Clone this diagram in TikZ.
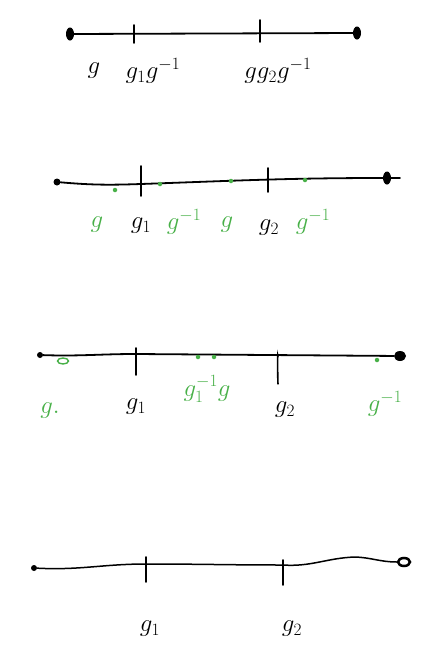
\documentclass[tikz,border=0pt]{standalone}
\usetikzlibrary{shapes.geometric}
\begin{document}
\begin{tikzpicture}[x=1pt,y=-1pt,
  axis/.style={line width=1.8pt,line cap=round},
  tickmark/.style={line width=1.6pt,line cap=round},
  enddot/.style={circle,fill=black,inner sep=0pt,minimum size=7pt},
  endblob/.style={ellipse,fill=black,inner sep=0pt,minimum width=8pt,minimum height=13pt},
  gdot/.style={circle,fill=hgreen,inner sep=0pt,minimum size=4.5pt},
  gring/.style={ellipse,draw=hgreen,line width=1.4pt,inner sep=0pt,minimum width=11pt,minimum height=6pt},
  lab/.style={font=\fontsize{26}{30}\selectfont,inner sep=0pt},
  glab/.style={lab,text=hgreen},
  ]
\definecolor{hgreen}{RGB}{72,176,72}
\useasboundingbox (0,0) rectangle (429,648);

% ---------- line 1 ----------
\node[endblob] (a1) at (70,34) {};
\node[endblob] (b1) at (357,33) {};
\draw[axis] (a1) -- (b1);
\coordinate (t1a) at (134,25); \coordinate (t1ae) at (134,43);
\coordinate (t1b) at (260,20); \coordinate (t1be) at (260,42);
\draw[tickmark] (t1a) -- (t1ae);
\draw[tickmark] (t1b) -- (t1be);
\node[lab] (l1g) at (94,71) {$g$};
\node[lab] (l1c) at (153,71) {$g_1g^{-1}$};
\node[lab] (l1d) at (278,71) {$gg_2g^{-1}$};

% ---------- line 2 ----------
\node[enddot] (a2) at (57,182) {};
\node[endblob] (b2) at (387,178) {};
\coordinate (c2) at (400,178);
\draw[axis] (a2) to[out=-5,in=182] (141,184) to[out=2,in=180] (b2);
\draw[axis] (b2) -- (c2);
\coordinate (t2a) at (141,166); \coordinate (t2ae) at (141,196);
\coordinate (t2b) at (268,168); \coordinate (t2be) at (268,192);
\draw[tickmark] (t2a) -- (t2ae);
\draw[tickmark] (t2b) -- (t2be);
\node[gdot] (p21) at (115,190) {};
\node[gdot] (p22) at (160,184) {};
\node[gdot] (p23) at (231,181) {};
\node[gdot] (p24) at (305,180) {};
\node[glab] (l2a) at (97,225) {$g$};
\node[lab]  (l2b) at (141,226) {$g_1$};
\node[glab] (l2c) at (184,222) {$g^{-1}$};
\node[glab] (l2d) at (227,225) {$g$};
\node[lab]  (l2e) at (269,228) {$g_2$};
\node[glab] (l2f) at (313,222) {$g^{-1}$};

% ---------- line 3 ----------
\node[enddot,minimum size=6pt] (a3) at (40,355) {};
\node[ellipse,fill=black,inner sep=0pt,minimum width=12pt,minimum height=10pt] (b3) at (400,356) {};
\draw[axis] (a3) to[out=-2,in=180] (136,354) -- (b3);
\coordinate (t3a) at (136,348); \coordinate (t3ae) at (136,375);
\coordinate (t3b) at (278,357); \coordinate (t3be) at (278,383);
\draw[tickmark] (t3a) -- (t3ae);
\draw[tickmark] (t3b) to[out=95,in=-90] (t3be);
\node[gring] (p31) at (63,361) {};
\node[gdot] (p32) at (198,357) {};
\node[gdot] (p33) at (214,357) {};
\node[gdot] (p34) at (377,360) {};
\node[glab] (l3a) at (50,411) {$g.$};
\node[lab]  (l3b) at (136,407) {$g_1$};
\node[glab] (l3c) at (207,389) {$g_1^{-1}g$};
\node[lab]  (l3d) at (285,410) {$g_2$};
\node[glab] (l3e) at (385,404) {$g^{-1}$};

% ---------- line 4 ----------
\node[enddot,minimum size=6pt] (a4) at (34,568) {};
\node[ellipse,draw=black,line width=2.5pt,fill=white,inner sep=0pt,minimum width=12pt,minimum height=8pt] (b4) at (404,562) {};
\draw[axis,line width=1.5pt] (a4) to[out=-3,in=180] (146,564) to[out=0,in=180] (283,565)
   to[out=-4,in=182] (355,557) to[out=-2,in=180] (b4);
\coordinate (t4a) at (146,557); \coordinate (t4ae) at (146,582);
\coordinate (t4b) at (283,560); \coordinate (t4be) at (283,585);
\draw[tickmark] (t4a) -- (t4ae);
\draw[tickmark] (t4b) -- (t4be);
\node[lab] (l4a) at (150,629) {$g_1$};
\node[lab] (l4b) at (292,629) {$g_2$};
\end{tikzpicture}
\end{document}
